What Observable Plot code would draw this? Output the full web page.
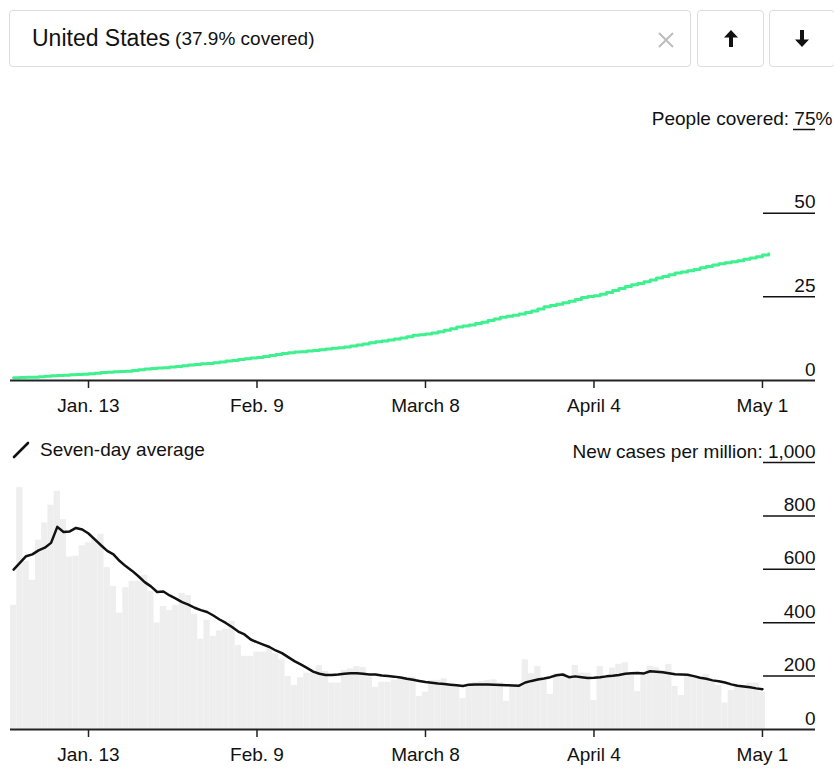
<!DOCTYPE html>
<html><head><meta charset="utf-8">
<script src="https://cdn.jsdelivr.net/npm/d3@7"></script>
<script src="https://cdn.jsdelivr.net/npm/@observablehq/plot@0.6"></script>
<style>
body{margin:0;background:#fff;font-family:"Liberation Sans",Arial,sans-serif;color:#111;}
#wrap{position:relative;width:834px;height:768px;overflow:hidden;background:#fff;}
.box{position:absolute;top:10px;height:57px;border:1px solid #dcdcdc;border-radius:4px;box-sizing:border-box;background:#fff;display:flex;align-items:center;justify-content:center;}
#search{left:9px;width:682px;justify-content:flex-start;padding-left:22px;}
#search .name{font-size:23px;color:#111;}
#search .pct{font-size:19px;color:#111;margin-left:5px;}
#search svg.x{position:absolute;left:647px;top:20px;}
#up{left:697px;width:67px;}
#down{left:769px;width:66px;}
#top{position:absolute;left:0;top:80px;}
#bottom{position:absolute;left:0;top:425px;}
#legend{position:absolute;left:12px;top:438px;height:24px;line-height:24px;font-size:19px;display:flex;align-items:center;}
#legend svg{margin-right:10px;}
</style></head>
<body><div id="wrap">
<div class="box" id="search"><span class="name">United States</span><span class="pct">(37.9% covered)</span>
<svg class="x" width="18" height="18" viewBox="0 0 18 18"><path d="M2 2L16 16M16 2L2 16" stroke="#bdbdbd" stroke-width="2"/></svg></div>
<div class="box" id="up"><svg width="14" height="17" viewBox="0 0 14 17"><polygon points="7,0 14,7.5 9,7.5 9,17 5,17 5,7.5 0,7.5" fill="#111"/></svg></div>
<div class="box" id="down"><svg width="14" height="17" viewBox="0 0 14 17"><polygon points="7,17 14,9.5 9,9.5 9,0 5,0 5,9.5 0,9.5" fill="#111"/></svg></div>
<div id="top"></div>
<div id="bottom"></div>
<div id="legend"><svg width="18" height="18" viewBox="0 0 18 18"><path d="M2 16L16 2" stroke="#111" stroke-width="2.6" stroke-linecap="round"/></svg><span>Seven-day average</span></div>
</div>
<script>
// ---- data ----
const startDate = "2021-01-01";
// People covered (%), daily Jan 1 – May 2, 2021
const coverage = [
 0.8,0.9,1.0,1.0,1.1,1.3,1.4,1.5,1.6,1.7,1.8,1.9,2.0,2.2,2.4,2.5,2.6,2.7,2.8,3.0,3.2,3.4,3.6,3.7,3.8,4.0,4.2,4.4,4.6,4.8,5.0,
 5.1,5.3,5.5,5.8,6.0,6.3,6.5,6.7,6.9,7.2,7.5,7.8,8.1,8.3,8.5,8.6,8.8,9.0,9.2,9.4,9.6,9.8,10.0,10.3,10.6,10.9,11.3,11.6,
 11.8,12.1,12.4,12.7,13.1,13.5,13.7,13.9,14.2,14.6,15.0,15.5,16.0,16.3,16.6,17.0,17.4,17.9,18.4,18.9,19.2,19.5,19.9,20.3,20.8,21.4,22.0,22.4,22.8,23.2,23.7,
 24.2,24.8,25.1,25.3,25.8,26.3,26.9,27.5,28.1,28.6,29.0,29.5,30.0,30.6,31.1,31.6,32.1,32.4,32.8,33.2,33.7,34.1,34.5,34.9,35.2,35.5,35.8,36.2,36.6,37.0,
 37.5,37.9
];
// New cases per million, daily Jan 1 – May 1, 2021
const cases = [
 465,906,630,559,709,774,840,892,786,646,649,688,699,715,731,606,536,436,531,555,555,578,517,399,461,446,465,509,502,431,338,
 409,349,369,375,405,315,274,274,290,290,302,284,261,199,165,194,211,211,240,217,174,174,221,227,236,232,196,158,
 177,177,185,196,196,196,124,140,184,184,190,165,165,116,172,177,180,184,186,175,106,165,165,261,209,236,184,131,209,209,196,
 240,211,211,109,236,196,230,244,250,209,142,215,236,231,221,244,161,127,202,202,190,206,177,165,99,146,161,165,174,174,
 140
];
// Seven-day average of new cases per million
const avg7 = [
 599,624,649,656,671,681,699,759,740,742,755,749,734,712,690,669,656,631,611,594,574,552,536,515,517,502,490,477,468,456,447,
 440,427,412,399,384,367,356,337,327,318,309,296,286,271,256,244,231,217,209,204,204,206,209,211,211,209,206,206,
 202,200,198,195,190,186,182,178,175,172,170,168,166,163,168,169,169,169,168,167,166,165,164,176,182,187,191,196,203,206,196,
 199,196,193,194,196,199,201,204,209,211,212,210,218,216,214,211,207,206,205,200,194,190,184,181,176,169,164,161,158,154,
 151
];
const tickDates = ["2021-01-13","2021-02-09","2021-03-08","2021-04-04","2021-05-01"];
const tickLabels = ["Jan. 13","Feb. 9","March 8","April 4","May 1"];
const coverageTicks = [0,25,50,75];
const caseTicks = [0,200,400,600,800,1000];

// ---- build tables ----
const day0 = new Date(startDate + "T00:00Z");
const covData = coverage.map((v,i)=>({date:d3.utcDay.offset(day0,i), v}));
const caseData = cases.map((v,i)=>({date:d3.utcDay.offset(day0,i), v}));
const avgData = avg7.map((v,i)=>({date:d3.utcDay.offset(day0,i), v}));
const ticks = tickDates.map(s=>new Date(s+"T00:00Z"));
const labelMap = new Map(ticks.map((d,i)=>[+d, tickLabels[i]]));
const xDomain = [d3.utcHour.offset(day0,-12), d3.utcHour.offset(d3.utcDay.offset(day0,128),12)];

const W = 834, ML = 10, MR = 19, FW = W - ML - MR;
const style = {fontFamily:'"Liberation Sans", Arial, sans-serif', fontSize:"19px", color:"#111", background:"transparent", overflow:"visible"};
const fmt = d3.format(",");

const topChart = Plot.plot({
  width: W, height: 345, marginTop: 49, marginBottom: 45, marginLeft: ML, marginRight: MR,
  style,
  x: {type:"utc", domain: xDomain, axis: null},
  y: {domain:[0,75], axis: null},
  marks: [
    Plot.ruleY(coverageTicks.filter(d=>d>0 && d<75), {insetLeft: FW-52, stroke:"#111", strokeWidth:1.5}),
    Plot.ruleY(coverageTicks.filter(d=>d===75), {insetLeft: FW-22, stroke:"#111", strokeWidth:1.5}),
    Plot.text(coverageTicks.filter(d=>d<75), {y:d=>d, text:d=>String(d), frameAnchor:"right", textAnchor:"end", lineAnchor:"bottom", dy:-5, fill:"#111"}),
    Plot.text(coverageTicks.filter(d=>d===75), {y:d=>d, text:d=>"People covered: " + d, frameAnchor:"right", textAnchor:"end", lineAnchor:"bottom", dy:-5, fill:"#111"}),
    Plot.text(coverageTicks.filter(d=>d===75), {y:d=>d, text:()=>"%", frameAnchor:"right", textAnchor:"start", lineAnchor:"bottom", dy:-5, fill:"#111"}),
    Plot.line(covData, {x:"date", y:"v", curve:"step-after", stroke:"#3ff08f", strokeWidth:3}),
    Plot.ruleY([0], {stroke:"#222", strokeWidth:2}),
    Plot.axisX(ticks, {tickSize:8, tickPadding:10, tickFormat:d=>labelMap.get(+d), stroke:"#222", strokeWidth:1.5, fill:"#111"})
  ]
});
document.getElementById("top").append(topChart);

const bottomChart = Plot.plot({
  width: W, height: 342, marginTop: 37, marginBottom: 38, marginLeft: ML, marginRight: MR,
  style,
  x: {type:"utc", domain: xDomain, axis: null},
  y: {domain:[0,1000], axis: null},
  marks: [
    Plot.rectY(caseData, {x1:d=>d3.utcHour.offset(d.date,-12), x2:d=>d3.utcHour.offset(d.date,12), y:"v", fill:"#eeeeee"}),
    Plot.ruleY(caseTicks.filter(d=>d>0), {insetLeft: FW-52, stroke:"#111", strokeWidth:1.5}),
    Plot.text(caseTicks.filter(d=>d<1000), {y:d=>d, text:d=>fmt(d), frameAnchor:"right", textAnchor:"end", lineAnchor:"bottom", dy:-5, fill:"#111"}),
    Plot.text(caseTicks.filter(d=>d===1000), {y:d=>d, text:d=>"New cases per million: " + fmt(d), frameAnchor:"right", textAnchor:"end", lineAnchor:"bottom", dy:-5, fill:"#111"}),
    Plot.line(avgData, {x:"date", y:"v", stroke:"#111", strokeWidth:2.5, strokeLinejoin:"round"}),
    Plot.ruleY([0], {stroke:"#222", strokeWidth:2}),
    Plot.axisX(ticks, {tickSize:8, tickPadding:10, tickFormat:d=>labelMap.get(+d), stroke:"#222", strokeWidth:1.5, fill:"#111"})
  ]
});
document.getElementById("bottom").append(bottomChart);
</script>
</body></html>
